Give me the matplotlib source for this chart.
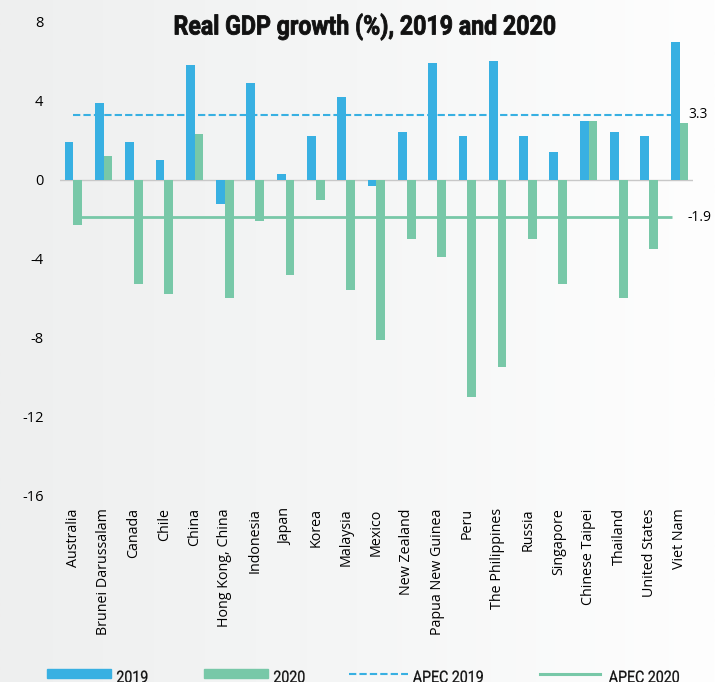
import numpy as np
import matplotlib.pyplot as plt
from matplotlib.colors import LinearSegmentedColormap
from matplotlib.font_manager import FontProperties
from matplotlib.lines import Line2D
from matplotlib.patches import PathPatch, Rectangle
from matplotlib.textpath import TextPath
from matplotlib.transforms import Affine2D

# Real GDP growth (%) by economy
economies = ['Australia', 'Brunei Darussalam', 'Canada', 'Chile', 'China',
             'Hong Kong, China', 'Indonesia', 'Japan', 'Korea', 'Malaysia',
             'Mexico', 'New Zealand', 'Papua New Guinea', 'Peru',
             'The Philippines', 'Russia', 'Singapore', 'Chinese Taipei',
             'Thailand', 'United States', 'Viet Nam']
growth_2019 = [1.9, 3.9, 1.9, 1.0, 5.8, -1.2, 4.9, 0.3, 2.2, 4.2,
               -0.3, 2.4, 5.9, 2.2, 6.0, 2.2, 1.4, 3.0, 2.4, 2.2, 7.0]
growth_2020 = [-2.3, 1.2, -5.3, -5.8, 2.3, -6.0, -2.1, -4.8, -1.0, -5.6,
               -8.1, -3.0, -3.9, -11.0, -9.5, -3.0, -5.3, 3.0, -6.0, -3.5, 2.9]
apec_2019 = 3.3
apec_2020 = -1.9
yticks = [8, 4, 0, -4, -8, -12, -16]
legend_labels = ['2019', '2020', 'APEC 2019', 'APEC 2020']

blue = '#38b0e2'
green = '#78c8a8'
body = 'Open Sans'

W, H = 715, 682
fig = plt.figure(figsize=(W / 100, H / 100), dpi=100)
px = Affine2D().scale(1 / fig.dpi) + fig.dpi_scale_trans  # pixel coords, origin bottom-left


def narrow_text(s, x, baseline, size, squeeze, weight='normal', stroke=0):
    # condensed text: glyph outlines squeezed horizontally, x/baseline measured from top-left
    tp = TextPath((0, 0), s, size=size, prop=FontProperties(family='Roboto', weight=weight))
    ext = tp.get_extents()
    tr = Affine2D().translate(-ext.x0, 0).scale(squeeze, 1).translate(x, H - baseline) + px
    fig.add_artist(PathPatch(tp, transform=tr, facecolor='#111111',
                             edgecolor='#111111', lw=stroke))


# soft left-to-right background shading
bg = fig.add_axes([0, 0, 1, 1], zorder=-10)
bg.imshow(np.linspace(0, 1, 256).reshape(1, -1), aspect='auto', extent=[0, 1, 0, 1],
          cmap=LinearSegmentedColormap.from_list('bg', ['#eeefef', '#f5f6f6', '#fefefe']))
bg.axis('off')

ax = fig.add_axes([0.084, 0.273, 0.885, 0.695])
ax.patch.set_alpha(0)

x = np.arange(len(economies))
w = 0.29
ax.bar(x - w / 2, growth_2019, w, color=blue, zorder=2)
ax.bar(x + w / 2, growth_2020, w, color=green, zorder=2)
ax.axhline(0, color='#c8c8c8', lw=1, zorder=1)

# APEC averages
x1 = len(economies) - 1.25
ax.hlines(apec_2019, 0, x1, colors=blue, linestyles=(0, (3.5, 1.5)), lw=1.5, zorder=3)
ax.hlines(apec_2020, 0, x1, colors=green, lw=2, zorder=1)
ax.text(x1 + 0.55, apec_2019, f'{apec_2019}', va='center', ha='left', fontsize=10, family=body)
ax.text(x1 + 0.5, apec_2020, f'{apec_2020}', va='center', ha='left', fontsize=10, family=body)

ax.set_xlim(-0.44, len(economies) - 1 + 0.44)
ax.set_ylim(-16, 8)
ax.set_yticks(yticks)
ax.set_yticklabels([str(t) for t in yticks], family=body, fontsize=10.5)
ax.set_xticks(x)
ax.set_xticklabels(economies, rotation=90, family=body, fontsize=10.3)
ax.tick_params(axis='y', length=0, pad=12)
ax.tick_params(axis='x', length=0, pad=9)
for s in ax.spines.values():
    s.set_visible(False)

# title
title = 'Real GDP growth (%), 2019 and 2020'
tp = TextPath((0, 0), title, size=26.7, prop=FontProperties(family='Roboto', weight='bold'))
narrow_text(title, 175, 34.5, 26.7, 380 / tp.get_extents().width, weight='bold', stroke=0.6)

# legend along the bottom edge
fig.add_artist(Rectangle((47, H - 678), 64, 9, transform=px, color=blue))
narrow_text(legend_labels[0], 117, 682.5, 16.5, 0.86, stroke=0.2)
fig.add_artist(Rectangle((204, H - 678), 64, 9, transform=px, color=green))
narrow_text(legend_labels[1], 274, 682.5, 16.5, 0.86, stroke=0.2)
fig.add_artist(Line2D([349, 408], [H - 673.5] * 2, transform=px, color=blue,
                      lw=1.5, ls=(0, (3.5, 1.5))))
narrow_text(legend_labels[2], 413, 682.5, 16.5, 0.86, stroke=0.2)
fig.add_artist(Line2D([540, 600], [H - 673.5] * 2, transform=px, color=green, lw=2.2))
narrow_text(legend_labels[3], 609, 682.5, 16.5, 0.86, stroke=0.2)

fig.savefig('out.png', dpi=100)
